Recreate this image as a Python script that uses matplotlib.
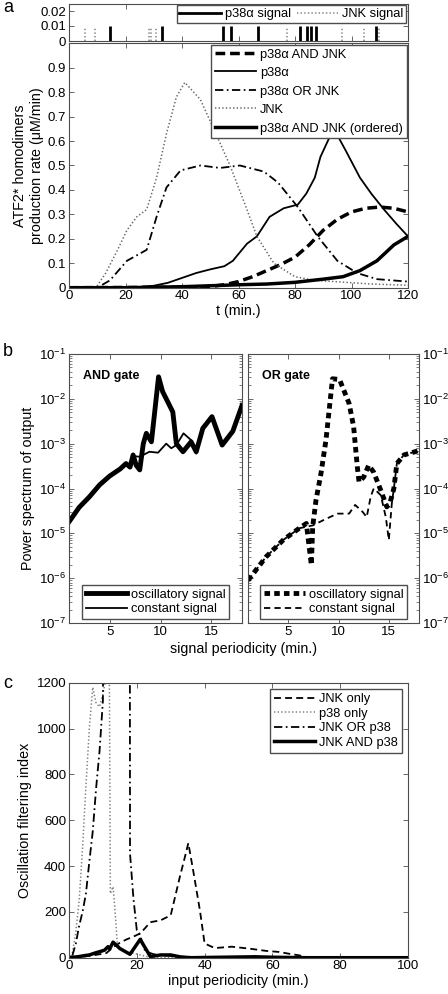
import numpy as np
import matplotlib
matplotlib.use("Agg")
import matplotlib.pyplot as plt
from matplotlib.lines import Line2D

plt.rcParams["font.family"] = ["Liberation Sans", "DejaVu Sans"]
plt.rcParams["font.size"] = 9.5
plt.rcParams["lines.scale_dashes"] = False
plt.rcParams["axes.linewidth"] = 0.8
plt.rcParams["axes.edgecolor"] = "0.3"

# ---- panel a: input signals ----
p38_signal_t = [14.6, 32.9, 54.4, 57.5, 67.0, 81.8, 84.1, 85.8, 87.3, 108.6]
jnk_signal_t = [5.7, 9.2, 28.2, 29.2, 30.9, 77.3, 96.8, 104.3, 109.8]
signal_amp = 0.01

# ---- panel a: production rates ----
t_and = [0, 45, 50, 55, 60, 65, 70, 75, 80, 85, 90, 95, 100, 105, 110, 115, 120]
v_and = [0, 0.002, 0.005, 0.012, 0.025, 0.045, 0.07, 0.095, 0.125, 0.175,
         0.235, 0.28, 0.31, 0.325, 0.33, 0.325, 0.31]
t_p38 = [0, 20, 25, 30, 35, 40, 45, 50, 55, 58, 63, 66.5, 71, 76, 81, 84, 87,
         89, 92, 94, 98, 103, 107, 111.5, 116, 120]
v_p38 = [0, 0, 0.003, 0.008, 0.02, 0.04, 0.06, 0.075, 0.088, 0.11, 0.18, 0.21,
         0.29, 0.325, 0.34, 0.385, 0.45, 0.535, 0.61, 0.645, 0.56, 0.45, 0.385,
         0.32, 0.26, 0.21]
t_or = [0, 10, 14.5, 20.5, 27.5, 31, 34.5, 39.5, 46.5, 53.5, 60.5, 69, 74, 81,
        88, 95, 102, 109, 120]
v_or = [0, 0, 0.03, 0.11, 0.155, 0.29, 0.41, 0.48, 0.5, 0.49, 0.5, 0.475, 0.43,
        0.33, 0.21, 0.11, 0.06, 0.035, 0.025]
t_jnk = [0, 9.5, 13, 17, 20.5, 24, 27.5, 31, 34.5, 38, 41, 46.5, 52, 57, 62,
         66.5, 72.5, 80, 87, 94, 107, 120]
v_jnk = [0, 0, 0.06, 0.15, 0.235, 0.29, 0.32, 0.45, 0.63, 0.78, 0.84, 0.77,
         0.63, 0.5, 0.35, 0.21, 0.1, 0.045, 0.03, 0.025, 0.015, 0.01]
t_ord = [0, 20, 40, 60, 70, 80, 90, 97, 103, 109, 115, 120]
v_ord = [0, 0, 0.004, 0.012, 0.015, 0.022, 0.035, 0.045, 0.07, 0.11, 0.175, 0.21]

# ---- panel b: power spectra ----
per_and_osc = [1, 2, 3, 4, 5, 6, 6.6, 7, 7.3, 7.6, 7.95, 8.3, 8.6, 9.1, 9.8,
               10.2, 11.2, 11.55, 12.2, 13.0, 13.5, 14.15, 15.05, 16.05, 17.1, 18]
pow_and_osc = [1.8e-5, 3.8e-5, 6.5e-5, 1.2e-4, 1.9e-4, 2.7e-4, 3.6e-4, 3.0e-4,
               5.6e-4, 3.3e-4, 2.6e-4, 1.0e-3, 1.7e-3, 1.1e-3, 3.1e-2, 1.45e-2,
               5.1e-3, 1.0e-3, 6.6e-4, 1.1e-3, 6.6e-4, 2.2e-3, 4.0e-3, 9.3e-4,
               1.9e-3, 7.1e-3]
per_and_const = [1, 2, 3, 4, 5, 6, 6.6, 7, 7.3, 7.95, 8.9, 9.75, 10.55, 11.05,
                 11.55, 12.25, 13.0, 13.5, 14.15, 15.05, 16.05, 17.1, 18]
pow_and_const = [1.8e-5, 3.8e-5, 6.5e-5, 1.2e-4, 1.9e-4, 2.7e-4, 3.6e-4, 3.1e-4,
                 5.3e-4, 5.1e-4, 6.6e-4, 6.3e-4, 1.0e-3, 7.9e-4, 9.3e-4, 1.7e-3,
                 1.2e-3, 6.0e-4, 2.2e-3, 4.0e-3, 9.3e-4, 1.9e-3, 7.1e-3]
per_or_osc = [1, 2.8, 4.5, 6.1, 6.8, 7.3, 7.43, 7.76, 8.26, 8.75, 9.4, 10.1,
              11.05, 11.5, 11.87, 12.04, 12.5, 13.0, 13.5, 14.2, 14.8, 15.1,
              15.5, 15.8, 16.5, 17.6, 18]
pow_or_osc = [8.9e-7, 3.0e-6, 7.1e-6, 1.3e-5, 1.66e-5, 1.95e-6, 1.4e-5, 5.5e-5,
              2.2e-4, 1.2e-3, 2.8e-2, 2.7e-2, 7.9e-3, 2.4e-3, 3.0e-4, 1.4e-4,
              1.8e-4, 3.3e-4, 2.3e-4, 9.1e-5, 3.9e-5, 4.6e-5, 1.0e-4, 3.6e-4,
              5.6e-4, 6.6e-4, 7.1e-4]
per_or_const = [1, 2.8, 4.5, 6.1, 7.43, 8.75, 9.9, 11.05, 11.65, 12.4, 12.8,
                13.2, 13.5, 14.2, 14.7, 15.0, 15.3, 15.5, 15.8, 16.5, 17.6, 18]
pow_or_const = [8.9e-7, 3.0e-6, 7.1e-6, 1.3e-5, 1.5e-5, 2.1e-5, 2.75e-5,
                2.75e-5, 4.3e-5, 3.0e-5, 2.3e-5, 6.6e-5, 1.0e-4, 7.1e-5, 2.3e-5,
                7.1e-6, 4.7e-5, 1.0e-4, 3.6e-4, 5.6e-4, 6.6e-4, 7.1e-4]

# ---- panel c: oscillation filtering index ----
per_jnk = [1, 3, 5, 7, 9, 11, 13, 15, 17, 19, 21, 22.5, 24, 27, 30, 32.7, 34.2,
           35.2, 36.6, 38.6, 40, 43, 48, 53, 58, 62, 65, 68, 70, 75, 100]
ofi_jnk = [2, 4, 6, 10, 15, 20, 45, 65, 80, 92, 106, 130, 155, 163, 185, 353,
           440, 500, 383, 208, 62, 42, 48, 40, 30, 25, 17, 10, 3, 0, 0]
per_p38 = [1, 2, 3, 4, 5, 6, 7, 8, 9, 10, 11, 11.8, 12.2, 13, 13.6, 14.2, 15, 17,
           19, 21, 23, 25, 30, 100]
ofi_p38 = [20, 110, 250, 480, 750, 1000, 1180, 1110, 1095, 1150, 1230, 1600, 280,
           310, 200, 70, 35, 25, 20, 12, 5, 2, 0, 0]
per_or = [1, 2, 3, 4, 5, 6, 7, 8, 9, 10, 10.6, 17.9, 18, 19, 20, 21, 22, 23, 25,
          28, 30, 35, 40, 100]
ofi_or = [10, 60, 140, 200, 280, 420, 550, 740, 900, 1120, 2500, 2500, 455, 260,
          120, 100, 40, 25, 15, 10, 8, 3, 0, 0]
per_and = [0.5, 2, 3, 5, 6, 8, 9, 10.5, 11.5, 12, 13, 15, 18, 21, 24, 27, 30, 33,
           36, 45, 55, 60, 70, 100]
ofi_and = [2, 3, 5, 10, 12, 22, 26, 33, 48, 38, 68, 40, 15, 80, 5, 12, 12, 3, 0,
           2, 4, 2, 0, 0]

W, H = 448, 994
LAB = 10.3   # axis label size
LEG = 9.3    # legend text size


def box(x0, y0, x1, y1):
    # pixel box (top-left origin) -> figure fraction rect
    return [x0 / W, 1 - y1 / H, (x1 - x0) / W, (y1 - y0) / H]


def style(ax):
    ax.tick_params(direction="in", top=True, right=True, length=3.5, width=0.6,
                   labelsize=9.5, pad=2, colors="0.3", labelcolor="black")
    ax.tick_params(which="minor", direction="in", top=True, right=True,
                   length=2, width=0.5, colors="0.3")


def legend(ax, handles=None, labels=None, **kw):
    opts = dict(fancybox=False, edgecolor="0.3", framealpha=1, fontsize=LEG,
                handlelength=3.2, borderpad=0.3, handletextpad=0.3)
    opts.update(kw)
    if handles is None:
        return ax.legend(**opts)
    return ax.legend(handles, labels, **opts)


fig = plt.figure(figsize=(W / 100, H / 100), dpi=100)

DASH = (0, (7, 3.5))
THINDASH = (0, (4.5, 3))
DASHDOT = (0, (6, 2.5, 1.2, 2.5))
DOT = (0, (1, 1.6))

# ---- panel a top ----
ax0 = fig.add_axes(box(69, 3.5, 408, 41))
ax0.vlines(p38_signal_t, 0, signal_amp, color="black", lw=2)
ax0.vlines(jnk_signal_t, 0, signal_amp * 0.9, color="0.55", lw=1.2, linestyles=DOT)
ax0.set_xlim(0, 120)
ax0.set_ylim(0, 0.025)
ax0.set_yticks([0, 0.01, 0.02])
ax0.set_yticklabels(["0", "0.01", "0.02"])
ax0.set_xticks(range(0, 121, 20))
ax0.set_xticklabels([])
style(ax0)
h0 = [Line2D([], [], color="black", lw=2),
      Line2D([], [], color="0.55", lw=1.2, ls=DOT)]
legend(ax0, h0, ["p38\u03b1 signal", "JNK signal"], ncol=2, loc="upper right",
       borderpad=0.2, columnspacing=0.5, borderaxespad=0.15)

# ---- panel a main ----
ax1 = fig.add_axes(box(69, 43.3, 408, 287.7))
ax1.plot(t_and, v_and, color="black", lw=2.5, ls=DASH, label="p38\u03b1 AND JNK")
ax1.plot(t_p38, v_p38, color="black", lw=1.3, label="p38\u03b1")
ax1.plot(t_or, v_or, color="black", lw=1.3, ls=DASHDOT, label="p38\u03b1 OR JNK")
ax1.plot(t_jnk, v_jnk, color="0.4", lw=1.1, ls=DOT, label="JNK")
ax1.plot(t_ord, v_ord, color="black", lw=2.5, label="p38\u03b1 AND JNK (ordered)")
ax1.set_xlim(0, 120)
ax1.set_ylim(0, 1)
ax1.set_xticks(range(0, 121, 20))
ax1.set_yticks(np.arange(0, 0.91, 0.1))
ax1.set_yticklabels(["0"] + ["%.1f" % v for v in np.arange(0.1, 0.91, 0.1)])
style(ax1)
ax1.set_xlabel("t (min.)", fontsize=LAB, labelpad=1)
ax1.set_ylabel("ATF2* homodimers\nproduction rate (\u03bcM/min)", fontsize=LAB,
               labelpad=3)
legend(ax1, loc="upper right", labelspacing=0.5, borderaxespad=0.1)

# ---- panel b ----
axL = fig.add_axes(box(69, 354, 242, 623))
axR = fig.add_axes(box(248, 354, 419, 623))
axL.plot(per_and_osc, pow_and_osc, color="black", lw=3.5, label="oscillatory signal")
axL.plot(per_and_const, pow_and_const, color="black", lw=1.3, label="constant signal")
axR.plot(per_or_osc, pow_or_osc, color="black", lw=3.5, ls=(0, (4, 3)),
         label="oscillatory signal")
axR.plot(per_or_const, pow_or_const, color="black", lw=1.3, ls=THINDASH,
         label="constant signal")
for ax, title in ((axL, "AND gate"), (axR, "OR gate")):
    ax.set_yscale("log")
    ax.set_xlim(1, 18)
    ax.set_ylim(1e-7, 1e-1)
    ax.set_xticks([5, 10, 15])
    style(ax)
    ax.text(0.08, 0.94, title, transform=ax.transAxes, fontsize=9,
            fontweight="bold", va="top")
    legend(ax, loc="lower center", labelspacing=0.2, borderaxespad=0.3)
axR.tick_params(labelleft=False, labelright=True)
axL.set_ylabel("Power spectrum of output", fontsize=LAB, labelpad=3)
fig.text(244 / W, 1 - 649 / H, "signal periodicity (min.)", fontsize=LAB,
         ha="center", va="center")

# ---- panel c ----
ax2 = fig.add_axes(box(69, 682.7, 408, 957.7))
ax2.plot(per_jnk, ofi_jnk, color="black", lw=1.3, ls=(0, (5, 3)), label="JNK only")
ax2.plot(per_p38, ofi_p38, color="0.5", lw=1.1, ls=DOT, label="p38 only")
ax2.plot(per_or, ofi_or, color="black", lw=1.3, ls=DASHDOT, label="JNK OR p38")
ax2.plot(per_and, ofi_and, color="black", lw=2.5, label="JNK AND p38")
ax2.set_xlim(0, 100)
ax2.set_ylim(0, 1200)
ax2.set_xticks(range(0, 101, 20))
ax2.set_yticks(range(0, 1201, 200))
style(ax2)
ax2.set_xlabel("input periodicity (min.)", fontsize=LAB, labelpad=1)
ax2.set_ylabel("Oscillation filtering index", fontsize=LAB, labelpad=3)
legend(ax2, loc="upper right", labelspacing=0.2, borderaxespad=0.5)

# panel letters
fig.text(3 / W, 1 - 8 / H, "a", fontsize=13, va="center", ha="left")
fig.text(3 / W, 1 - 351 / H, "b", fontsize=13, va="center", ha="left")
fig.text(3 / W, 1 - 683 / H, "c", fontsize=13, va="center", ha="left")

fig.savefig("out.png", dpi=100)
